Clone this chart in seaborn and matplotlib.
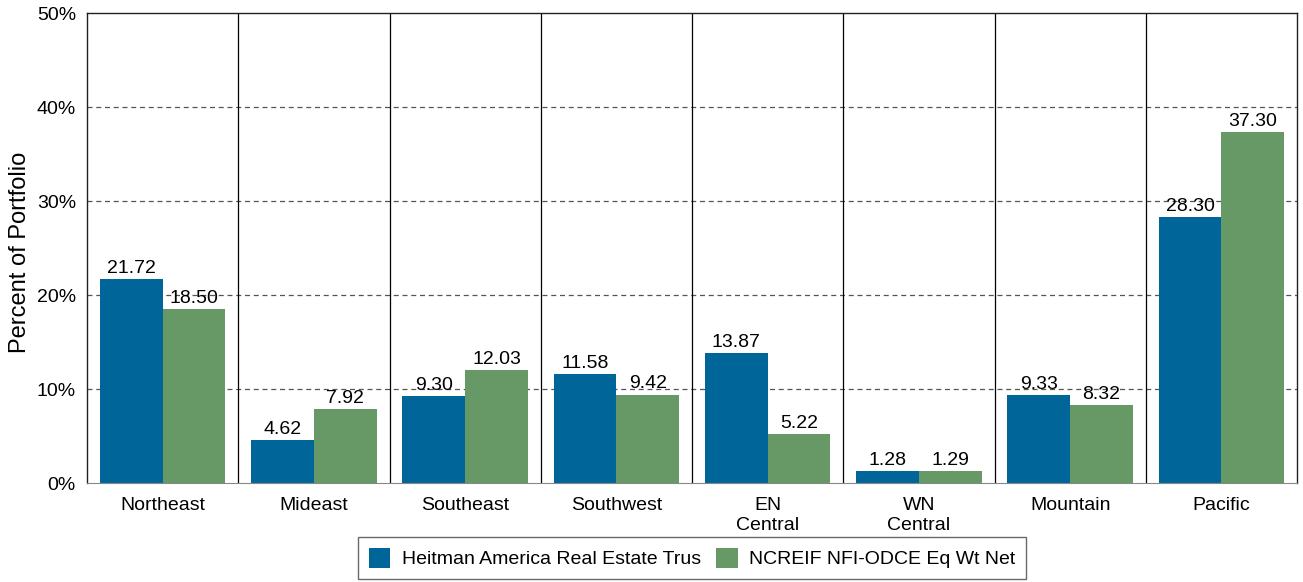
import matplotlib
matplotlib.use("Agg")
import matplotlib.pyplot as plt
import pandas as pd
import seaborn as sns
from matplotlib.ticker import PercentFormatter

regions = ["Northeast", "Mideast", "Southeast", "Southwest", "EN\nCentral",
           "WN\nCentral", "Mountain", "Pacific"]
heitman = [21.72, 4.62, 9.30, 11.58, 13.87, 1.28, 9.33, 28.30]
ncreif = [18.50, 7.92, 12.03, 9.42, 5.22, 1.29, 8.32, 37.30]
series_names = ["Heitman America Real Estate Trus", "NCREIF NFI-ODCE Eq Wt Net"]
colors = ["#006699", "#669966"]

df = pd.DataFrame({
    "Region": regions * 2,
    "Value": heitman + ncreif,
    "Series": [series_names[0]] * len(regions) + [series_names[1]] * len(regions),
})

sns.set_style("white")
plt.rcParams["font.family"] = ["Liberation Sans", "DejaVu Sans"]
plt.rcParams["text.color"] = "black"
plt.rcParams["xtick.color"] = "black"
plt.rcParams["ytick.color"] = "black"
plt.rcParams["axes.labelcolor"] = "black"

fig = plt.figure(figsize=(13.03, 5.82), dpi=100)
ax = fig.add_axes([0.0668, 0.170, 0.9286, 0.8076])

sns.barplot(data=df, x="Region", y="Value", hue="Series", order=regions,
            hue_order=series_names, palette=colors, width=0.83, saturation=1,
            ax=ax, errorbar=None, linewidth=0, edgecolor="none")

for container in ax.containers:
    ax.bar_label(container, fmt="%.2f", fontsize=14, padding=1.5, color="black")

ax.set_ylim(0, 50)
ax.set_xlim(-0.5, len(regions) - 0.5)
ax.set_yticks([0, 10, 20, 30, 40, 50])
ax.yaxis.set_major_formatter(PercentFormatter(decimals=0))
for y in [10, 20, 30, 40]:
    ax.axhline(y, color="#555555", linestyle=(0, (4, 3)), linewidth=0.9, zorder=0)
for x in range(1, len(regions)):
    ax.axvline(x - 0.5, color="black", linewidth=0.9, zorder=0)

ax.tick_params(axis="y", labelsize=14, length=0, pad=8)
ax.tick_params(axis="x", labelsize=14, length=0, pad=10)
ax.set_xlabel("")
ax.set_ylabel("Percent of Portfolio", fontsize=17, va="center")
ax.yaxis.set_label_coords(-0.0554, 0.49)
for side in ["left", "top", "right"]:
    ax.spines[side].set_color("#222222")
    ax.spines[side].set_linewidth(1.0)
ax.spines["bottom"].set_color("#888888")

ax.legend(loc="upper center", bbox_to_anchor=(0.5, -0.115), ncol=2, frameon=True,
          fancybox=False, edgecolor="#444444", fontsize=14, handlelength=1.1,
          handleheight=1.2, columnspacing=0.8, handletextpad=0.6, borderpad=0.55,
          borderaxespad=0)

fig.savefig("out.png", dpi=100)
